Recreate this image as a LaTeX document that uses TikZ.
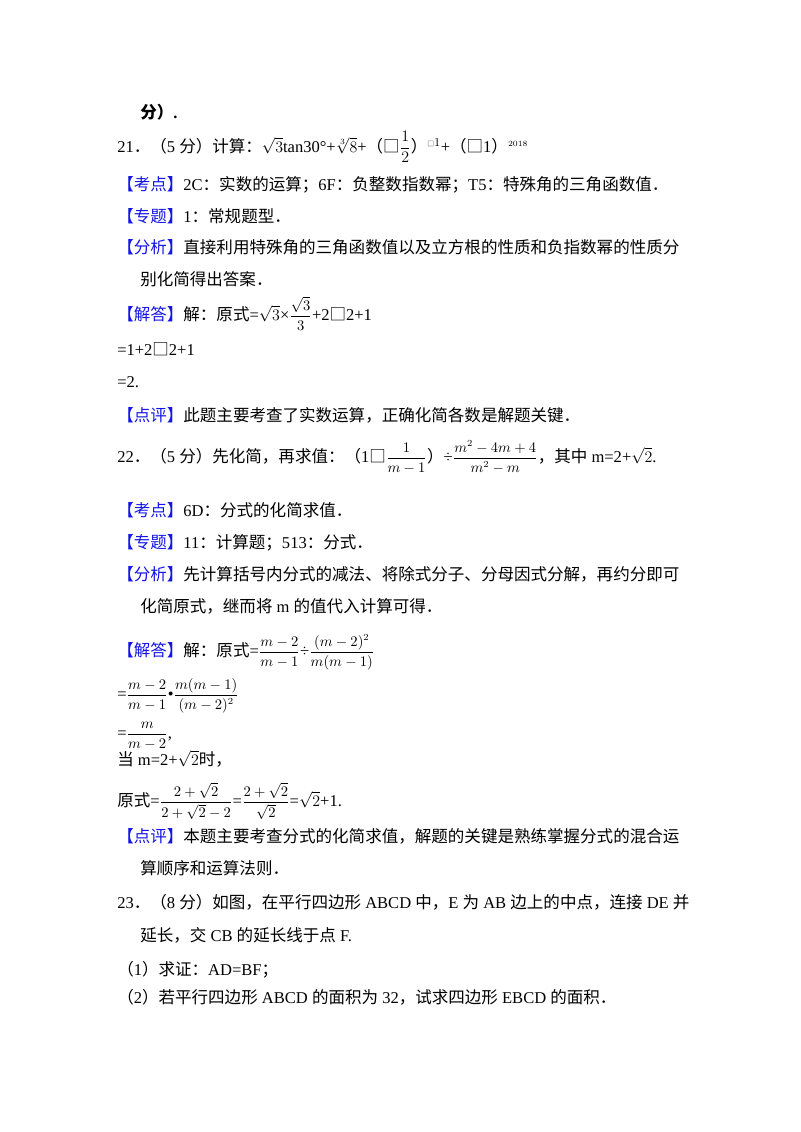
\documentclass[tikz,border=0pt]{standalone}
\usepackage{amsmath}
\usepackage{fontspec}
\setmainfont{Liberation Serif}
\newfontfamily\zhfont{Noto Sans CJK SC}
\newcommand\zh[1]{{\zhfont #1}}
\definecolor{tagblue}{RGB}{20,20,230}
\newcommand\hdtag[1]{{\color{tagblue}\zhfont 【#1】}}
\newcommand\sfr[2]{{\fontsize{10.5pt}{12pt}\selectfont$\dfrac{#1}{#2}$}}
\begin{document}
\begin{tikzpicture}[x=0.75pt,y=-0.75pt,every node/.style={anchor=base west,inner sep=0pt,font=\fontsize{12.4pt}{14pt}\selectfont}]
\useasboundingbox (0,0) rectangle (800,1132);
\node (l0) at (140,118) {\zh{\bfseries 分）}\textbf{.}};
\node (l1) at (117,152) {21\zh{．（}5 \zh{分）计算：}$\sqrt{3}$tan30°+$\sqrt[3]{8}$+\zh{（□}$\dfrac{1}{2}$\zh{）}$^{\text{\zh{\tiny □}}1}$+\zh{（□}1\zh{）}$^{\scriptscriptstyle 2018}$};
\node (l2) at (117,190) {\hdtag{考点}2C\zh{：实数的运算；}6F\zh{：负整数指数幂；}T5\zh{：特殊角的三角函数值．}};
\node (l3) at (117,222) {\hdtag{专题}1\zh{：常规题型．}};
\node (l4) at (117,253) {\hdtag{分析}\zh{直接利用特殊角的三角函数值以及立方根的性质和负指数幂的性质分}};
\node (l5) at (140,285) {\zh{别化简得出答案．}};
\node (l6) at (117,320) {\hdtag{解答}\zh{解：原式}=$\sqrt{3}$×\sfr{\sqrt{3}}{3}+2\zh{□}2+1};
\node (l7) at (117,355) {=1+2\zh{□}2+1};
\node (l8) at (117,387) {=2.};
\node (l9) at (117,421) {\hdtag{点评}\zh{此题主要考查了实数运算，正确化简各数是解题关键．}};
\node (m1) at (117,462) {22\zh{．（}5 \zh{分）先化简，再求值：（}1\zh{□}\sfr{1}{m-1}\zh{）}÷\sfr{m^2-4m+4}{m^2-m}\zh{，其中} m=2+$\sqrt{2}$.};
\node (m2) at (117,516) {\hdtag{考点}6D\zh{：分式的化简求值．}};
\node (m3) at (117,548) {\hdtag{专题}11\zh{：计算题；}513\zh{：分式．}};
\node (m4) at (117,580) {\hdtag{分析}\zh{先计算括号内分式的减法、将除式分子、分母因式分解，再约分即可}};
\node (m5) at (140,612) {\zh{化简原式，继而将} m \zh{的值代入计算可得．}};
\node (m6) at (117,656) {\hdtag{解答}\zh{解：原式}=\sfr{m-2}{m-1}÷\sfr{(m-2)^2}{m(m-1)}};
\node (m7) at (117,699) {=\sfr{m-2}{m-1}•\sfr{m(m-1)}{(m-2)^2}};
\node (m8) at (117,738) {=\sfr{m}{m-2},};
\node (m9) at (117,765) {\zh{当} m=2+$\sqrt{2}$\zh{时，}};
\node (m10) at (117,806) {\zh{原式}=\sfr{2+\sqrt{2}}{2+\sqrt{2}-2}=\sfr{2+\sqrt{2}}{\sqrt{2}}=$\sqrt{2}$+1.};
\node (m11) at (117,842) {\hdtag{点评}\zh{本题主要考查分式的化简求值，解题的关键是熟练掌握分式的混合运}};
\node (m12) at (140,874) {\zh{算顺序和运算法则．}};
\node (n1) at (117,908) {23\zh{．（}8 \zh{分）如图，在平行四边形} ABCD \zh{中，}E \zh{为} AB \zh{边上的中点，连接} DE \zh{并}};
\node (n2) at (140,941) {\zh{延长，交} CB \zh{的延长线于点} F.};
\node (n3) at (117,975) {\zh{（}1\zh{）求证：}AD=BF\zh{；}};
\node (n4) at (117,1003) {\zh{（}2\zh{）若平行四边形} ABCD \zh{的面积为} 32\zh{，试求四边形} EBCD \zh{的面积．}};
\end{tikzpicture}
\end{document}
